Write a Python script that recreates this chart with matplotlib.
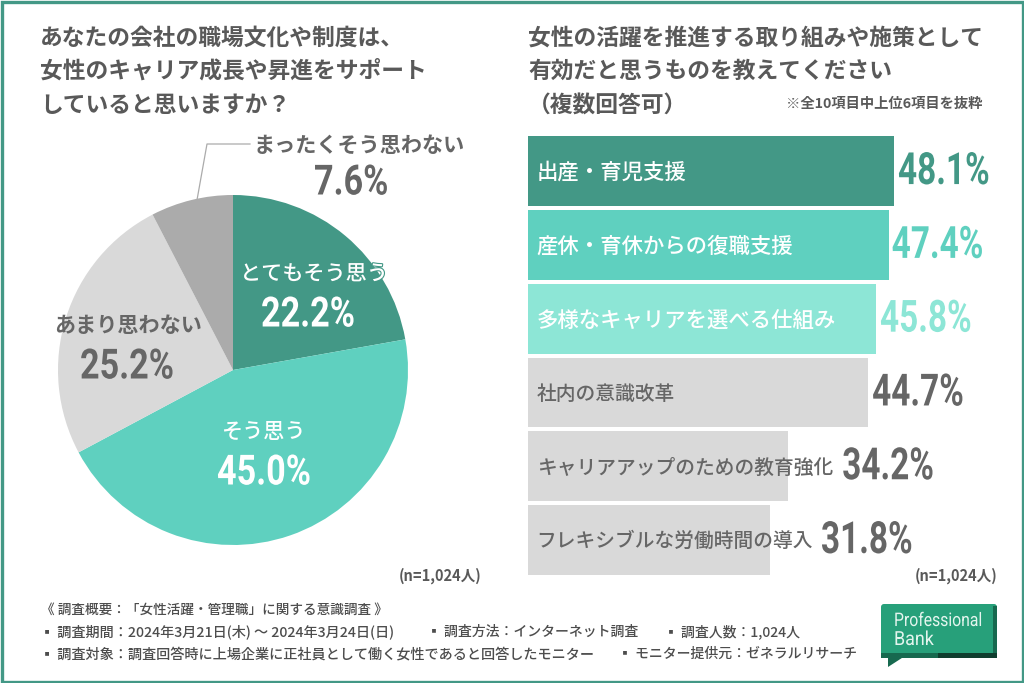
import matplotlib
matplotlib.use("Agg")
import matplotlib.pyplot as plt
import matplotlib.patheffects as pe
from matplotlib.patches import Rectangle, FancyBboxPatch, Polygon
from matplotlib.transforms import Affine2D

W, H = 1024, 683
JP = ['Noto Sans CJK JP', 'DejaVu Sans']
NUM = ['Roboto']

pie_labels = ['とてもそう思う', 'そう思う', 'あまり思わない', 'まったくそう思わない']
pie_values = [22.2, 45.0, 25.2, 7.6]
pie_colors = ['#439886', '#5fd0bf', '#d9d9d9', '#ababab']

bar_labels = ['出産・育児支援', '産休・育休からの復職支援', '多様なキャリアを選べる仕組み',
              '社内の意識改革', 'キャリアアップのための教育強化', 'フレキシブルな労働時間の導入']
bar_values = [48.1, 47.4, 45.8, 44.7, 34.2, 31.8]
bar_colors = ['#439886', '#5fd0bf', '#8de6d6', '#d9d9d9', '#d9d9d9', '#d9d9d9']
bar_text_colors = ['#ffffff', '#ffffff', '#ffffff', '#666666', '#666666', '#666666']
val_colors = ['#439886', '#5fd0bf', '#8de6d6', '#666666', '#666666', '#666666']

title_left = ['あなたの会社の職場文化や制度は、', '女性のキャリア成長や昇進をサポート', 'していると思いますか？']
title_right = ['女性の活躍を推進する取り組みや施策として', '有効だと思うものを教えてください', '（複数回答可）']
note_top = '※全10項目中上位6項目を抜粋'
n_label = '(n=1,024人)'
footer_lines = [
    (41, 610, 9.8, '《 調査概要：「女性活躍・管理職」に関する意識調査 》'),
    (40, 632, 10.2, '▪ 調査期間：2024年3月21日(木) 〜 2024年3月24日(日)'),
    (427, 632, 10, '▪ 調査方法：インターネット調査'),
    (664, 632, 10, '▪ 調査人数：1,024人'),
    (40, 654, 10.2, '▪ 調査対象：調査回答時に上場企業に正社員として働く女性であると回答したモニター'),
    (618, 654, 10, '▪ モニター提供元：ゼネラルリサーチ'),
]


class HStretch(pe.AbstractPathEffect):
    """Narrow a text horizontally around its own left anchor."""
    def __init__(self, sx):
        super().__init__()
        self.sx = sx

    def draw_path(self, renderer, gc, tpath, affine, rgbFace=None):
        m = affine.get_matrix().copy()
        m[0, 0] *= self.sx
        m[0, 1] *= self.sx
        renderer.draw_path(gc, tpath, Affine2D(m), rgbFace)


fig = plt.figure(figsize=(W / 100, H / 100), dpi=100, facecolor='white')

# Pixel-coordinate layer on top
bg = fig.add_axes([0, 0, 1, 1], zorder=10)
bg.set_xlim(0, W)
bg.set_ylim(H, 0)
bg.axis('off')
bg.add_patch(Rectangle((1.5, 1.5), W - 3, H - 3, fill=False, ec='#439886', lw=2.4))


def txt(x, y, s, size, color='#595959', weight='bold', ha='left', va='center', fam=JP, z=5, sx=None):
    t = bg.text(x, y, s, fontsize=size, color=color, fontweight=weight, ha=ha, va=va,
                family=fam, zorder=z)
    if sx:
        t.set_path_effects([HStretch(sx)])
    return t


for i, s in enumerate(title_left):
    txt(40, 38 + i * 33.5, s, 16.4)
for i, s in enumerate(title_right):
    txt(528, 38 + i * 33.5, s, 16.4)
txt(982, 104, note_top, 10.3, ha='right', weight='bold')
txt(482, 576, n_label, 10.5, ha='right', weight='bold')
txt(997, 576, n_label, 10.5, ha='right', weight='bold')

# Pie
cx, cy, r = 233, 370, 175
pie_ax = fig.add_axes([(cx - r) / W, 1 - (cy + r) / H, 2 * r / W, 2 * r / H])
pie_ax.pie(pie_values, colors=pie_colors, startangle=90, counterclock=False, radius=1,
           wedgeprops=dict(lw=0))
pie_ax.set_xlim(-1, 1)
pie_ax.set_ylim(-1, 1)

pie_pos = [(314, 274, 261, 315), (264, 432, 217, 473), (128, 325, 80, 367), (359, 145, 314, 183)]
pie_txt = ['#ffffff', '#ffffff', '#666666', '#666666']
for j, (lab, v, (x1, y1, x2, y2), c) in enumerate(zip(pie_labels, pie_values, pie_pos, pie_txt)):
    t = txt(x1, y1, lab, 15.2, color=c, ha='center', weight='medium' if j < 2 else 'bold')
    if j == 0:  # the last glyph leaves the slice: a slice-coloured outline keeps it legible
        t.set_path_effects([pe.withStroke(linewidth=1.6, foreground=pie_colors[0])])
    txt(x2, y2, f'{v:.1f}%', 30, color=c, fam=NUM, sx=0.82)
bg.plot([197, 207, 250], [200, 144, 144], color='#ababab', lw=0.9, zorder=2)

# Bars: x scale 528..894 px = 0..48.1
bx0, bx1 = 528, 894
by0, by1 = 134.2, 577
bar_ax = fig.add_axes([bx0 / W, 1 - by1 / H, (bx1 - bx0) / W, (by1 - by0) / H])
bar_ax.set_xlim(0, 48.1)
ypos = list(range(len(bar_values)))
bar_ax.set_ylim(len(bar_values) - 0.5, -0.5)
bar_ax.barh(ypos, bar_values, height=0.945, color=bar_colors, lw=0)
bar_ax.axis('off')
bar_ax.patch.set_alpha(0)
label_sizes = [15.4, 15.4, 15.4, 14.2, 14.2, 14.2]
for i, (lab, c, fs) in enumerate(zip(bar_labels, bar_text_colors, label_sizes)):
    bar_ax.annotate(lab, (0, i), xytext=(6.3, -1.2), textcoords='offset points', fontsize=fs,
                    color=c, fontweight='medium', va='center', ha='left', family=JP, annotation_clip=False)
# Gap in px between bar end and value text (the last two clear their long labels)
val_gap_px = [4, 3, 3.5, 4, 54, 51]
for i, (v, c, g) in enumerate(zip(bar_values, val_colors, val_gap_px)):
    t = bar_ax.annotate(f'{v:.1f}%', (v, i), xytext=(g * 0.72, -0.7), textcoords='offset points', fontsize=32,
                        color=c, fontweight='bold', va='center', ha='left', family=NUM, annotation_clip=False)
    t.set_path_effects([HStretch(0.75)])

# Footer
for x, y, fs, s in footer_lines:
    txt(x, y, s, fs, weight='medium', color='#4d4d4d')

# Logo
bg.add_patch(Polygon([[888, 656], [905, 656], [888, 667]], fc='#17694f', lw=0, zorder=3))
bg.add_patch(FancyBboxPatch((881, 604), 116, 54, boxstyle='round,pad=0,rounding_size=3', fc='#27a07a', lw=0, zorder=3))
bg.add_patch(Rectangle((938, 653), 59, 5, fc='#0f3d2e', lw=0, zorder=4))
bg.add_patch(Rectangle((881, 653), 57, 5, fc='#17694f', lw=0, zorder=4))
bg.add_patch(Rectangle((993, 606), 4, 47, fc='#17694f', lw=0, zorder=4))
txt(894, 621, 'Professional', 13.5, color='#e4f5ee', weight='normal', fam=NUM, sx=0.84)
txt(894, 640, 'Bank', 14, color='#e4f5ee', weight='normal', fam=NUM, sx=0.92)

fig.savefig('out.png', dpi=100, facecolor='white')
